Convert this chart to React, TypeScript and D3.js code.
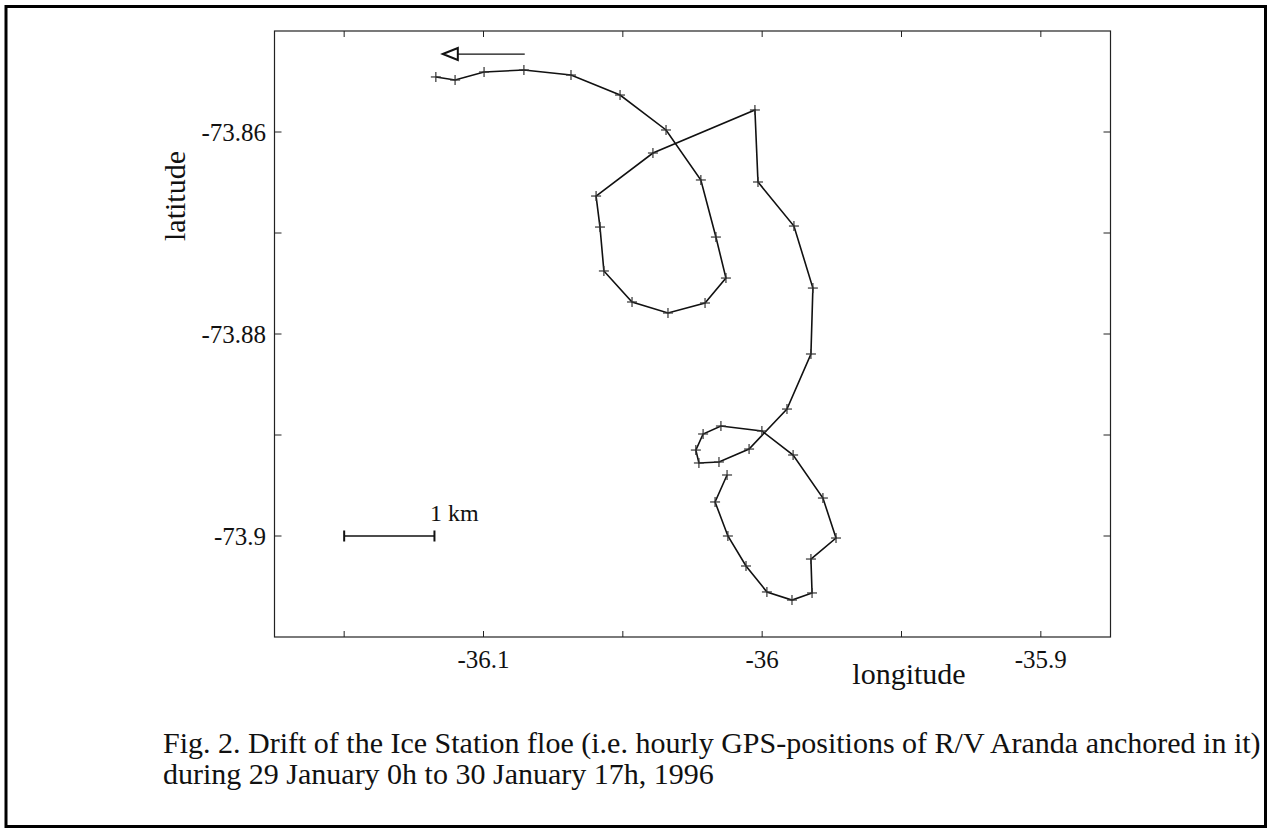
import React from 'react';
import * as d3 from 'd3';

// hourly GPS fixes, chronological (start near -36.01/-73.894, end top-left)
const lon = [
  -36.0126, -36.0169, -36.0123, -36.0058, -35.9983, -35.9893, -35.9821, -35.9825,
  -35.9735, -35.9782, -35.9889, -36.0001, -36.0148, -36.0212, -36.0238, -36.0227,
  -36.0155, -36.0047, -35.9911, -35.9825, -35.9818, -35.9886, -36.0015, -36.0026,
  -36.0392, -36.0596, -36.0582, -36.0568, -36.0467, -36.0338, -36.0205, -36.013,
  -36.0166, -36.022, -36.0345, -36.051, -36.0686, -36.0855, -36.0998, -36.1102,
  -36.1171,
];
const lat = [
  -73.89396, -73.89663, -73.9, -73.90297, -73.90554, -73.90634, -73.90564, -73.90228,
  -73.9002, -73.89624, -73.89198, -73.8896, -73.88911, -73.8899, -73.89149, -73.89277,
  -73.89267, -73.89139, -73.88743, -73.88198, -73.87545, -73.86931, -73.86495, -73.85782,
  -73.86208, -73.86634, -73.86941, -73.87376, -73.87683, -73.87792, -73.87693, -73.87446,
  -73.8704, -73.86475, -73.8598, -73.85634, -73.85436, -73.85386, -73.85406, -73.85485,
  -73.85455,
];

const xTicks = [-36.15, -36.1, -36.05, -36, -35.95, -35.9];
const xLabels = ['', '-36.1', '', '-36', '', '-35.9'];
const yTicks = [-73.86, -73.87, -73.88, -73.89, -73.9];
const yLabels = ['-73.86', '', '-73.88', '', '-73.9'];

// direction arrow and 1 km scale bar, in data units
const arrowLon = [-36.0852, -36.1146];
const arrowLat = -73.85228;
const barLon = [-36.15, -36.1176];
const barLat = -73.9;

const captionLines = [
  'Fig. 2. Drift of the Ice Station floe (i.e. hourly GPS-positions of R/V Aranda anchored in it)',
  'during 29 January 0h to 30 January 17h, 1996',
];

const W = 1272;
const H = 833;
const font = '"Liberation Serif", "Times New Roman", serif';

export default function App() {
  const x = d3.scaleLinear().domain([-36.175, -35.875]).range([274.5, 1110.5]);
  const y = d3.scaleLinear().domain([-73.91, -73.85]).range([637, 31]);
  const pts: [number, number][] = lon.map((d, i) => [x(d), y(lat[i])]);
  const line = d3.line()(pts) || '';

  const ax0 = x(arrowLon[0]);
  const ax1 = x(arrowLon[1]);
  const ay = y(arrowLat);
  const bx0 = x(barLon[0]);
  const bx1 = x(barLon[1]);
  const by = y(barLat);

  return (
    <svg width={W} height={H} style={{ position: 'absolute', left: 0, top: 0, background: '#fff' }}
      fontFamily={font}>
      <rect x={6} y={6.5} width={1259.5} height={820} fill="none" stroke="#000" strokeWidth={3} />

      {/* plot frame */}
      <rect x={274.5} y={31} width={836} height={606} fill="none" stroke="#222" strokeWidth={1.2} />

      {xTicks.map((t, i) => (
        <g key={'x' + i}>
          <line x1={x(t)} x2={x(t)} y1={637} y2={631} stroke="#222" strokeWidth={1} />
          <line x1={x(t)} x2={x(t)} y1={31} y2={37} stroke="#222" strokeWidth={1} />
          {xLabels[i] && (
            <text x={x(t)} y={668} textAnchor="middle" fontSize={25} fill="#111">{xLabels[i]}</text>
          )}
        </g>
      ))}
      {yTicks.map((t, i) => (
        <g key={'y' + i}>
          <line x1={274.5} x2={281.5} y1={y(t)} y2={y(t)} stroke="#222" strokeWidth={1} />
          <line x1={1110.5} x2={1103.5} y1={y(t)} y2={y(t)} stroke="#222" strokeWidth={1} />
          {yLabels[i] && (
            <text x={266} y={y(t)} dy="0.35em" textAnchor="end" fontSize={25} fill="#111">{yLabels[i]}</text>
          )}
        </g>
      ))}

      <text transform="translate(185,196) rotate(-90)" textAnchor="middle" fontSize={30} fill="#111">latitude</text>
      <text x={909} y={684} textAnchor="middle" fontSize={30} fill="#111">longitude</text>

      {/* drift track */}
      <path d={line} fill="none" stroke="#111" strokeWidth={1.6} />
      {pts.map(([px, py], i) => (
        <g key={'p' + i} stroke="#333" strokeWidth={1.2}>
          <line x1={px - 5} x2={px + 5} y1={py} y2={py} />
          <line x1={px} x2={px} y1={py - 5} y2={py + 5} />
        </g>
      ))}

      {/* drift direction arrow */}
      <line x1={ax0} x2={ax1 + 15} y1={ay} y2={ay} stroke="#111" strokeWidth={1.2} />
      <path d={`M${ax1},${ay} L${ax1 + 15},${ay - 6} L${ax1 + 15},${ay + 6} Z`} fill="none" stroke="#111" strokeWidth={2} />

      {/* 1 km scale bar */}
      <line x1={bx0} x2={bx1} y1={by} y2={by} stroke="#111" strokeWidth={1.3} />
      <line x1={bx0} x2={bx0} y1={by - 5.5} y2={by + 5.5} stroke="#111" strokeWidth={2} />
      <line x1={bx1} x2={bx1} y1={by - 5.5} y2={by + 5.5} stroke="#111" strokeWidth={2} />
      <text x={430} y={521} fontSize={24} fill="#111">1 km</text>

      {captionLines.map((s, i) => (
        <text key={'c' + i} x={163} y={753 + i * 31} fontSize={30} fill="#111">{s}</text>
      ))}
    </svg>
  );
}
